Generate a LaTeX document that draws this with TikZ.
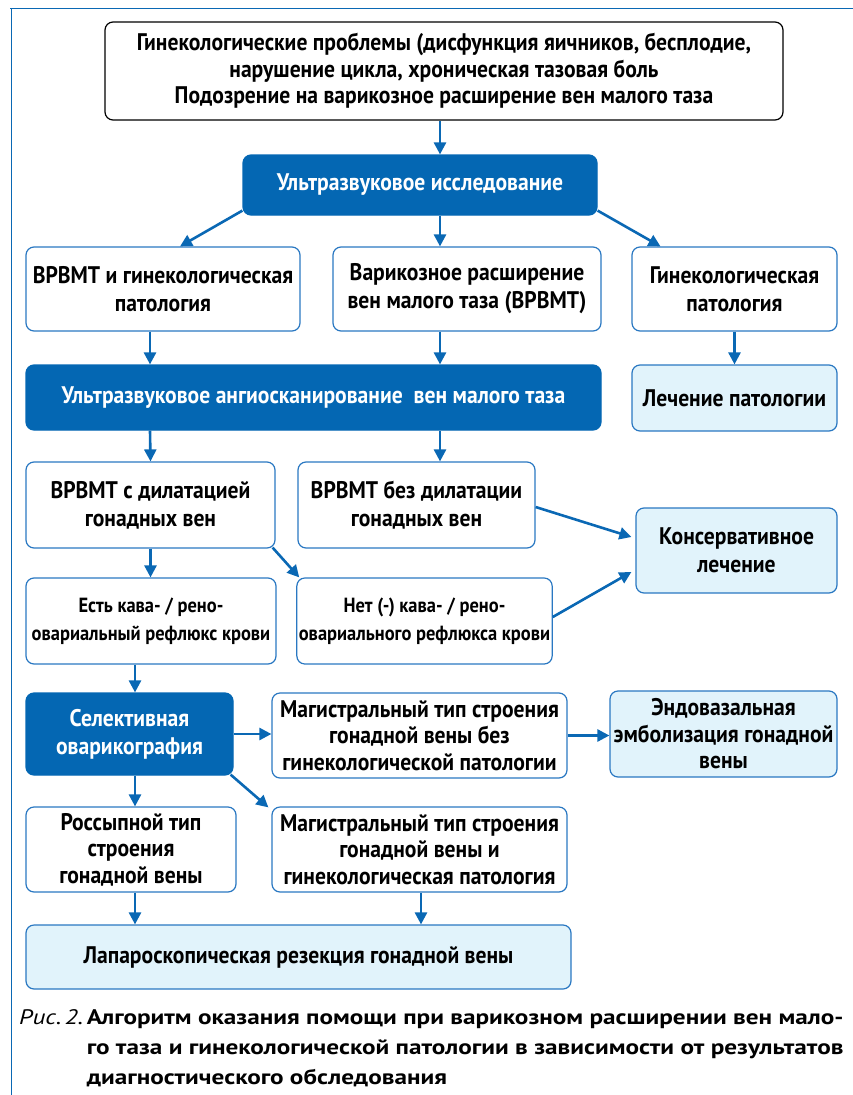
\documentclass[tikz,border=0pt]{standalone}
\usepackage{fontspec}
\setmainfont{PT Sans}
\newfontfamily\condfont[FakeStretch=0.9]{PT Sans}
\newfontfamily\capfont[FakeStretch=1.2]{PT Sans}
\usetikzlibrary{arrows.meta}
\definecolor{darkblue}{HTML}{0467B3}
\definecolor{lineblue}{HTML}{2A78C2}
\definecolor{arrowblue}{HTML}{0A68B4}
\definecolor{paleblue}{HTML}{E1F3FB}

\begin{document}
\begin{tikzpicture}[x=1pt, y=-1pt,
    box/.style={draw=lineblue, line width=1.2pt, rounded corners=8pt, fill=white,
                align=center, inner sep=2pt,
                font=\condfont\bfseries\fontsize{24}{28}\selectfont},
    darkbox/.style={box, draw=darkblue, fill=darkblue, text=white},
    palebox/.style={box, fill=paleblue},
    smalltext/.style={font=\condfont\bfseries\fontsize{20.5}{28}\selectfont},
    tighttext/.style={font=\condfont\bfseries\fontsize{24}{26.5}\selectfont},
    flow/.style={-{Triangle[length=12pt,width=12pt]}, line width=2.6pt, draw=arrowblue},
    frame/.style={draw=arrowblue, line width=1pt}
]
\useasboundingbox (0,0) rectangle (853,1095);
\draw[frame] (10,8) -- (853,8);
\draw[frame] (11,8) -- (11,1095);

\node[box, tighttext, draw=black, minimum width=678pt, minimum height=98pt] (prob) at (444,71) {Гинекологические проблемы (дисфункция яичников, бесплодие,\\нарушение цикла, хроническая тазовая боль\\Подозрение на варикозное расширение вен малого таза};
\node[darkbox, minimum width=354pt, minimum height=60pt] (us) at (420,185) {Ультразвуковое исследование};
\draw[flow] ([xshift=-4pt]prob.south) -- ([xshift=20pt]us.north);

\node[box, minimum width=274pt, minimum height=84pt] (vpa) at (163,289) {ВРВМТ и гинекологическая\\патология};
\node[box, minimum width=268pt, minimum height=84pt] (vpb) at (467,289) {Варикозное расширение\\вен малого таза (ВРВМТ)};
\node[box, minimum width=205pt, minimum height=84pt] (gyn) at (734.5,289) {Гинекологическая\\патология};
\draw[flow] ([yshift=5pt]us.south west) -- ([xshift=17pt]vpa.north);
\draw[flow] ([xshift=20pt]us.south) -- ([xshift=-27pt]vpb.north);
\draw[flow] ([yshift=5pt]us.south east) -- ([xshift=-74pt]gyn.north);

\node[darkbox, minimum width=575pt, minimum height=65pt] (angio) at (313.5,397.5) {Ультразвуковое ангиосканирование \ вен малого таза};
\node[palebox, minimum width=205pt, minimum height=66pt] (treat) at (734.5,398) {Лечение патологии};
\draw[flow] ([xshift=-13pt]vpa.south) -- ([xshift=-163.5pt]angio.north);
\draw[flow] ([xshift=-27pt]vpb.south) -- ([xshift=126.5pt]angio.north);
\draw[flow] (gyn.south) -- (treat.north);

\node[box, minimum width=249pt, minimum height=86pt] (dil) at (150.5,505) {ВРВМТ с дилатацией\\гонадных вен};
\node[box, minimum width=237pt, minimum height=86pt] (nodil) at (416.5,505) {ВРВМТ без дилатации\\гонадных вен};
\node[palebox, minimum width=201pt, minimum height=85pt] (cons) at (736.5,550.5) {Консервативное\\лечение};
\draw[flow] ([xshift=-163.5pt]angio.south) -- (dil.north);
\draw[flow] ([xshift=126.5pt]angio.south) -- ([xshift=23.5pt]nodil.north);

\node[box, smalltext, minimum width=250pt, minimum height=86pt] (refl) at (151,621) {Есть кава- / рено-\\овариальный рефлюкс крови};
\node[box, smalltext, minimum width=251pt, minimum height=86pt] (norefl) at (424.5,621) {Нет (-) кава- / рено-\\овариального рефлюкса крови};
\draw[flow] (dil.south) -- (dil.south |- refl.north);
\draw[flow] ([xshift=-3pt,yshift=1pt]dil.south east) -- ([xshift=3pt]norefl.north west);
\draw[flow] ([yshift=-2pt]nodil.east) -- ([xshift=-4pt,yshift=13.5pt]cons.west);
\draw[flow] ([yshift=4pt]norefl.east) -- ([xshift=-4pt,yshift=-21.5pt]cons.west);

\node[darkbox, minimum width=207pt, minimum height=82pt] (sel) at (129.5,734) {Селективная\\оварикография};
\node[box, tighttext, minimum width=295pt, minimum height=85pt] (magA) at (419.5,735.5) {Магистральный тип строения\\гонадной вены без\\гинекологической патологии};
\node[palebox, tighttext, minimum width=227pt, minimum height=86pt] (endo) at (723.5,734) {Эндовазальная\\эмболизация гонадной\\вены};
\draw[flow] ([xshift=-16pt]refl.south) -- ([xshift=5.5pt]sel.north);
\draw[flow] (sel.east) -- (sel.east -| magA.west);
\draw[flow] (magA.east) -- (magA.east -| endo.west);

\node[box, tighttext, minimum width=210pt, minimum height=85pt] (ross) at (131,849.5) {Россыпной тип\\строения\\гонадной вены};
\node[box, tighttext, minimum width=295pt, minimum height=85pt] (magB) at (419.5,849.5) {Магистральный тип строения\\гонадной вены и\\гинекологическая патология};
\draw[flow] ([xshift=5.5pt]sel.south) -- ([xshift=4pt]ross.north);
\draw[flow] ([xshift=-3pt,yshift=1pt]sel.south east) -- ([xshift=-3pt,yshift=-1pt]magB.north west);

\node[palebox, minimum width=545pt, minimum height=64pt] (lap) at (298.5,957) {Лапароскопическая резекция гонадной вены};
\draw[flow] ([xshift=4pt]ross.south) -- ([xshift=-163.5pt]lap.north);
\draw[flow] ([xshift=1.5pt]magB.south) -- ([xshift=122.5pt]lap.north);

\node[anchor=north west, inner sep=0pt, align=left, font=\capfont\fontsize{21}{30}\selectfont] (cap) at (19,1009) {\textit{Рис.\,2.}\,\parbox[t]{775pt}{\bfseries Алгоритм оказания помощи при варикозном расширении вен мало-\\го таза и гинекологической патологии в зависимости от результатов\\диагностического обследования}};
\end{tikzpicture}
\end{document}
